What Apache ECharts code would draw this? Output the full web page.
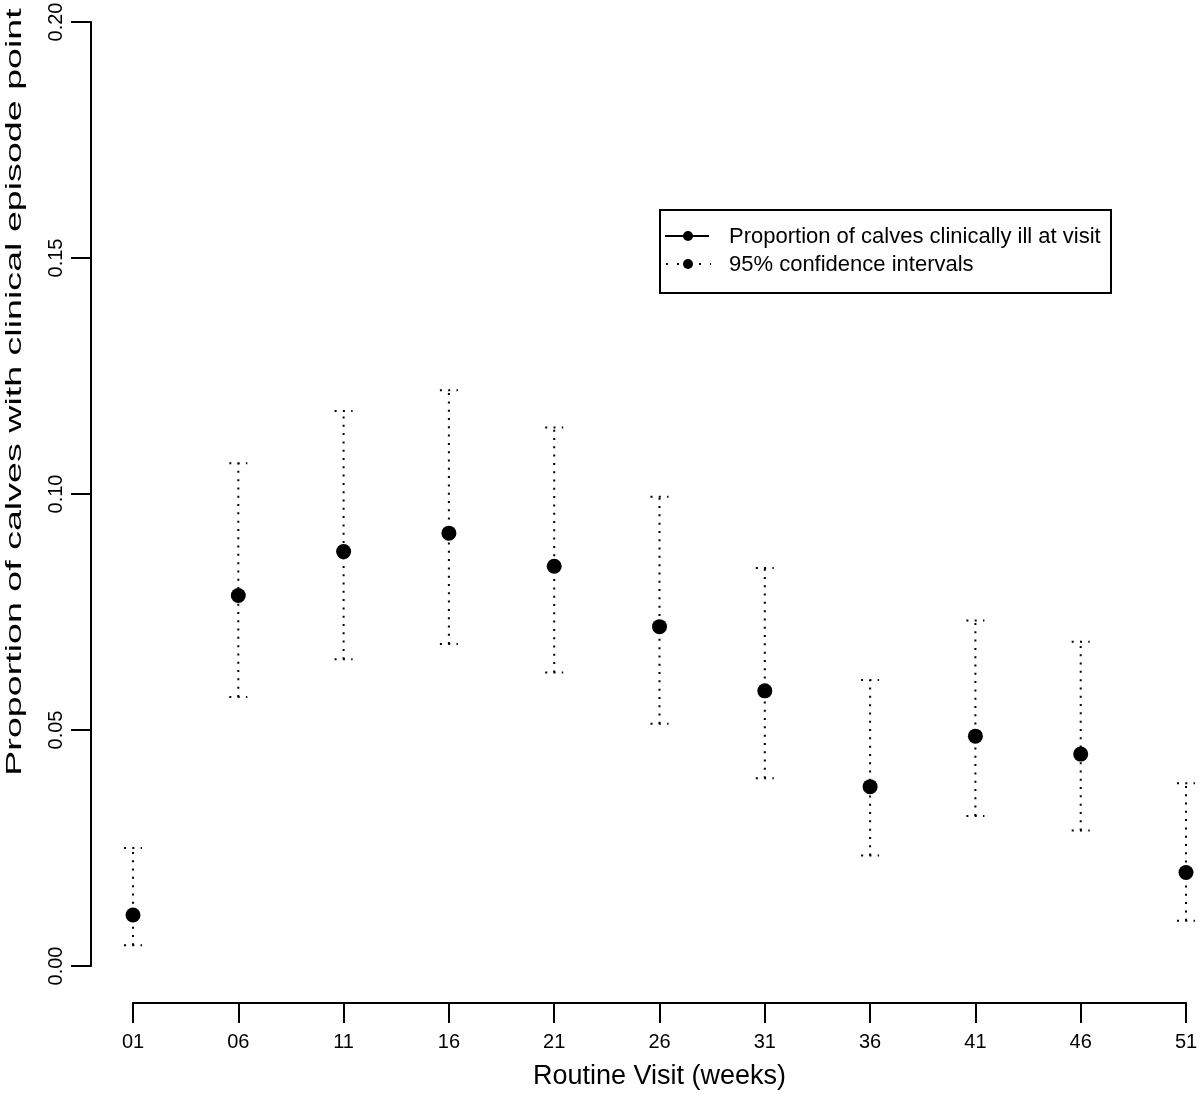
<!DOCTYPE html>
<html>
<head>
<meta charset="utf-8">
<script src="https://cdn.jsdelivr.net/npm/echarts@6/dist/echarts.min.js"></script>
<style>
html,body{margin:0;padding:0;background:#fff;}
#chart{width:1200px;height:1094px;}
</style>
</head>
<body>
<div id="chart"></div>
<script>
// ---- data ----
var weeks = [1, 6, 11, 16, 21, 26, 31, 36, 41, 46, 51];
var weekLabels = ['01', '06', '11', '16', '21', '26', '31', '36', '41', '46', '51'];
var proportion = [0.0108, 0.0785, 0.0878, 0.0917, 0.0847, 0.0719, 0.0583, 0.0380, 0.0487, 0.0449, 0.0198];
var lower = [0.0044, 0.0570, 0.0650, 0.0682, 0.0622, 0.0513, 0.0398, 0.0234, 0.0318, 0.0287, 0.0096];
var upper = [0.0250, 0.1065, 0.1176, 0.1220, 0.1141, 0.0994, 0.0843, 0.0606, 0.0732, 0.0687, 0.0387];
var yTickValues = [0, 0.05, 0.10, 0.15, 0.20];
var yTickLabels = ['0.00', '0.05', '0.10', '0.15', '0.20'];
var xTitle = 'Routine Visit (weeks)';
var yTitle = 'Proportion of calves with clinical episode point';
var legendNames = ['Proportion of calves clinically ill at visit', '95% confidence intervals'];

var FONT = '"Liberation Sans", Arial, Helvetica, sans-serif';

var pointData = weeks.map(function (w, i) { return [w, proportion[i]]; });
var ciData = weeks.map(function (w, i) { return [w, lower[i], upper[i]]; });

var chart = echarts.init(document.getElementById('chart'), null, { renderer: 'canvas' });

var dotted = { stroke: '#000', lineWidth: 2, lineDash: [2, 6.3], fill: null };

var option = {
  backgroundColor: '#fff',
  animation: false,
  textStyle: { fontFamily: FONT, color: '#000' },
  grid: { left: 133, right: 14, top: 22, bottom: 128, containLabel: false, outerBoundsMode: 'none' },
  xAxis: {
    type: 'value',
    min: 1,
    max: 51,
    offset: 37,
    splitLine: { show: false },
    axisLine: { show: true, onZero: false, lineStyle: { color: '#000', width: 2 } },
    axisTick: { show: true, length: 20, lineStyle: { color: '#000', width: 2 }, customValues: weeks },
    axisLabel: {
      show: true, customValues: weeks, fontSize: 20, color: '#000', fontFamily: FONT, margin: 29,
      formatter: function (v) { var i = weeks.indexOf(v); return i >= 0 ? weekLabels[i] : ''; }
    },
    name: xTitle,
    nameLocation: 'middle',
    nameGap: 60,
    nameTextStyle: { fontSize: 27, color: '#000', fontFamily: FONT }
  },
  yAxis: {
    type: 'value',
    min: 0,
    max: 0.2,
    interval: 0.05,
    offset: 42,
    splitLine: { show: false },
    axisLine: { show: true, onZero: false, lineStyle: { color: '#000', width: 2 } },
    axisTick: { show: true, length: 20, lineStyle: { color: '#000', width: 2 } },
    axisLabel: {
      show: true, rotate: 90, fontSize: 20, color: '#000', fontFamily: FONT, margin: 25,
      formatter: function (v) {
        for (var i = 0; i < yTickValues.length; i++) {
          if (Math.abs(yTickValues[i] - v) < 1e-9) return yTickLabels[i];
        }
        return '';
      }
    }
  },
  series: [
    {
      name: legendNames[1],
      type: 'custom',
      data: ciData,
      z: 2,
      renderItem: function (params, api) {
        var x = api.value(0), lo = api.value(1), hi = api.value(2);
        var pLo = api.coord([x, lo]);
        var pHi = api.coord([x, hi]);
        var hw = 9;
        return {
          type: 'group',
          children: [
            { type: 'line', shape: { x1: pLo[0], y1: pLo[1], x2: pHi[0], y2: pHi[1] }, style: dotted },
            { type: 'line', shape: { x1: pHi[0] - hw, y1: pHi[1], x2: pHi[0] + hw, y2: pHi[1] }, style: dotted },
            { type: 'line', shape: { x1: pLo[0] - hw, y1: pLo[1], x2: pLo[0] + hw, y2: pLo[1] }, style: dotted }
          ]
        };
      }
    },
    {
      name: legendNames[0],
      type: 'scatter',
      data: pointData,
      symbol: 'circle',
      symbolSize: 15,
      itemStyle: { color: '#000', opacity: 1 },
      emphasis: { disabled: true },
      z: 5
    }
  ],
  graphic: [
    {
      type: 'text',
      x: 15,
      y: 392,
      rotation: Math.PI / 2,
      scaleX: 1.71,
      style: {
        text: yTitle,
        font: '22px ' + FONT,
        fill: '#000',
        textAlign: 'center',
        textVerticalAlign: 'middle'
      }
    },
    // legend box
    {
      type: 'rect',
      shape: { x: 660, y: 210, width: 451, height: 83 },
      style: { fill: '#fff', stroke: '#000', lineWidth: 2 },
      z: 10
    },
    {
      type: 'line',
      shape: { x1: 665, y1: 236, x2: 709, y2: 236 },
      style: { stroke: '#000', lineWidth: 2 },
      z: 11
    },
    {
      type: 'circle',
      shape: { cx: 688, cy: 236, r: 5 },
      style: { fill: '#000' },
      z: 11
    },
    {
      type: 'line',
      shape: { x1: 666, y1: 264, x2: 711, y2: 264 },
      style: { stroke: '#000', lineWidth: 2, lineDash: [2, 9] },
      z: 11
    },
    {
      type: 'circle',
      shape: { cx: 688, cy: 264, r: 5 },
      style: { fill: '#000' },
      z: 11
    },
    {
      type: 'text',
      x: 729,
      y: 237,
      style: { text: legendNames[0], font: '22px ' + FONT, fill: '#000', textVerticalAlign: 'middle' },
      z: 11
    },
    {
      type: 'text',
      x: 729,
      y: 265,
      style: { text: legendNames[1], font: '22px ' + FONT, fill: '#000', textVerticalAlign: 'middle' },
      z: 11
    }
  ]
};

chart.setOption(option);
</script>
</body>
</html>
